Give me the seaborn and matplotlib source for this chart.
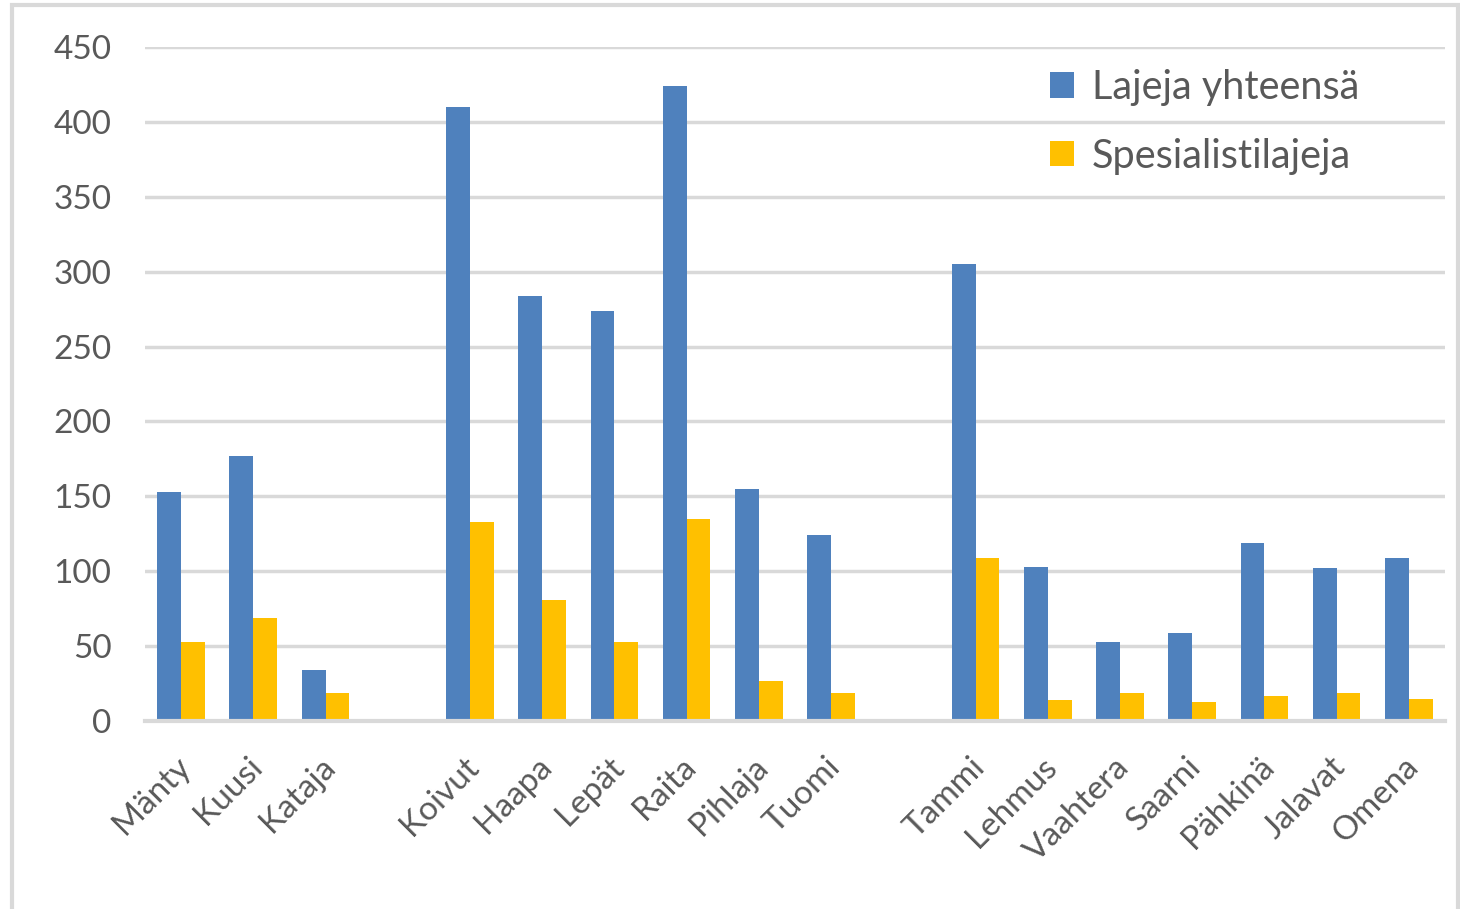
import numpy as np
import pandas as pd
import matplotlib.pyplot as plt
import seaborn as sns
from matplotlib.patches import Rectangle
from matplotlib.transforms import ScaledTranslation

# categories incl. two blank slots that separate the groups
puut = ["Mänty", "Kuusi", "Kataja", " ",
        "Koivut", "Haapa", "Lepät", "Raita", "Pihlaja", "Tuomi", "  ",
        "Tammi", "Lehmus", "Vaahtera", "Saarni", "Pähkinä", "Jalavat", "Omena"]
lajit = ["Mänty", "Kuusi", "Kataja",
         "Koivut", "Haapa", "Lepät", "Raita", "Pihlaja", "Tuomi",
         "Tammi", "Lehmus", "Vaahtera", "Saarni", "Pähkinä", "Jalavat", "Omena"]
yhteensa = [153, 177, 34, 410, 284, 274, 424, 155, 124, 305, 103, 53, 59, 119, 102, 109]
spesialistit = [53, 69, 19, 133, 81, 53, 135, 27, 19, 109, 14, 19, 13, 17, 19, 15]
sarjat = ["Lajeja yhteensä", "Spesialistilajeja"]
varit = ["#4f81bd", "#ffc000"]

df = pd.DataFrame({
    "puu": lajit * 2,
    "arvo": yhteensa + spesialistit,
    "sarja": [sarjat[0]] * len(lajit) + [sarjat[1]] * len(lajit),
})

sns.set_style("white")
plt.rcParams["font.family"] = ["Lato", "DejaVu Sans"]

fig = plt.figure(figsize=(14.6, 9.09), dpi=100)
ax = fig.add_axes([0.0993, 0.2068, 0.8904, 0.7414])

sns.barplot(data=df, x="puu", y="arvo", hue="sarja", order=puut, hue_order=sarjat,
            palette=varit, width=0.66, gap=0, saturation=1, linewidth=0, ax=ax)

ax.set_ylim(0, 450)
ax.set_xlim(-0.5, len(puut) - 0.5)
ax.set_yticks(np.arange(0, 451, 50))
ax.yaxis.grid(True, color="#d9d9d9", linewidth=2.5)
ax.set_axisbelow(True)
ax.set_xlabel("")
ax.set_ylabel("")
for s in ["top", "right", "left"]:
    ax.spines[s].set_visible(False)
ax.spines["bottom"].set_color("#d9d9d9")
ax.spines["bottom"].set_linewidth(3)

ax.tick_params(axis="y", length=0, labelsize=24, labelcolor="#595959", pad=24)
ax.tick_params(axis="x", length=0, labelsize=24, labelcolor="#595959", pad=22)
ax.set_xticks(range(len(puut)))
ax.set_xticklabels(puut, rotation=45, ha="right", rotation_mode="anchor")
siirto = ScaledTranslation(-6 / 100, 0, fig.dpi_scale_trans)
for lbl in ax.get_xticklabels():
    lbl.set_transform(lbl.get_transform() + siirto)

ax.legend(loc="upper left", bbox_to_anchor=(1050 / 1460, 1 - 69 / 909),
          bbox_transform=fig.transFigure, borderaxespad=0, borderpad=0,
          frameon=False, fontsize=28.5, labelcolor="#595959",
          handlelength=0.6, handleheight=0.6, handletextpad=0.45, labelspacing=0.8)

# light frame around the chart
fig.patches.append(Rectangle((12 / 1460, -0.01), 1446 / 1460, 904 / 909 + 0.01,
                             transform=fig.transFigure, fill=False,
                             edgecolor="#d9d9d9", linewidth=3))

plt.savefig("out.png", dpi=100)
